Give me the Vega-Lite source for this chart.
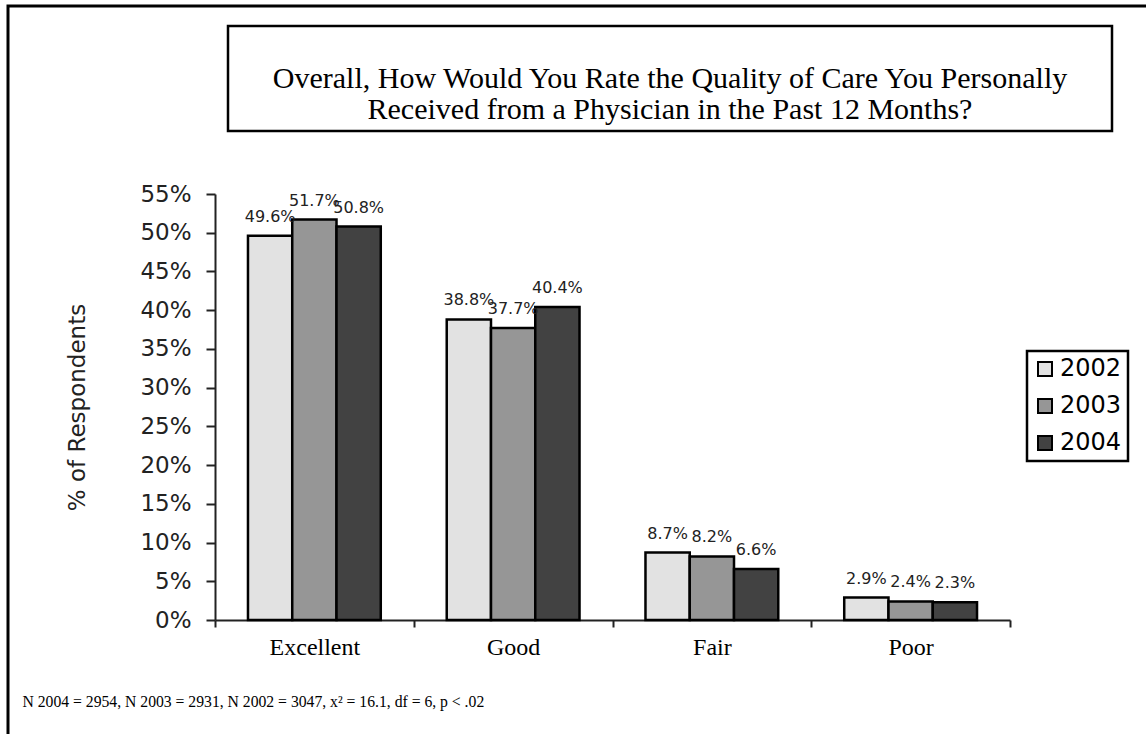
{
  "$schema": "https://vega.github.io/schema/vega-lite/v6.json",
  "width": 1170,
  "height": 760,
  "autosize": {"type": "none"},
  "padding": {"left": 8, "top": 6, "right": -32, "bottom": -32},
  "background": "white",
  "config": {"view": {"stroke": "black", "strokeWidth": 3, "fill": "white"}},
  "layer": [
    {
      "data": {"values": [
        {"rating": "Excellent", "year": "2002", "pct": 0.496},
        {"rating": "Excellent", "year": "2003", "pct": 0.517},
        {"rating": "Excellent", "year": "2004", "pct": 0.508},
        {"rating": "Good", "year": "2002", "pct": 0.388},
        {"rating": "Good", "year": "2003", "pct": 0.377},
        {"rating": "Good", "year": "2004", "pct": 0.404},
        {"rating": "Fair", "year": "2002", "pct": 0.087},
        {"rating": "Fair", "year": "2003", "pct": 0.082},
        {"rating": "Fair", "year": "2004", "pct": 0.066},
        {"rating": "Poor", "year": "2002", "pct": 0.029},
        {"rating": "Poor", "year": "2003", "pct": 0.024},
        {"rating": "Poor", "year": "2004", "pct": 0.023}
      ]},
      "encoding": {
        "x": {
          "field": "rating", "type": "nominal",
          "sort": ["Excellent", "Good", "Fair", "Poor"],
          "scale": {"range": [207, 1002], "paddingInner": 0, "paddingOuter": 0},
          "axis": {
            "orient": "bottom", "offset": -146,
            "title": "N 2004 = 2954, N 2003 = 2931, N 2002 = 3047, x² = 16.1, df = 6, p < .02",
            "titleX": 14, "titleY": 86, "titleAlign": "left", "titleBaseline": "alphabetic",
            "titleFont": "Liberation Serif", "titleFontSize": 15.7, "titleFontWeight": "normal", "titleColor": "black",
            "labelFont": "Liberation Serif", "labelFontSize": 24, "labelColor": "black", "labelAngle": 0, "labelPadding": 8,
            "tickBand": "extent", "tickSize": 7, "tickWidth": 2, "tickColor": "#222",
            "domainColor": "#222", "domainWidth": 2
          }
        },
        "xOffset": {"field": "year", "type": "nominal", "scale": {"paddingInner": 0, "paddingOuter": 0.745}},
        "y": {
          "field": "pct", "type": "quantitative",
          "scale": {"domain": [0, 0.55], "range": [614, 188], "nice": false, "zero": true},
          "axis": {
            "orient": "left", "offset": -207, "grid": false,
            "values": [0, 0.05, 0.1, 0.15, 0.2, 0.25, 0.3, 0.35, 0.4, 0.45, 0.5, 0.55],
            "format": ".0%",
            "title": "% of Respondents",
            "titleFont": "DejaVu Sans", "titleFontSize": 23, "titleFontWeight": "normal", "titleColor": "#222", "titlePadding": 50,
            "labelFont": "DejaVu Sans", "labelFontSize": 23, "labelColor": "#222", "labelPadding": 15,
            "tickSize": 9, "tickWidth": 2, "tickColor": "#222",
            "domainColor": "#222", "domainWidth": 2
          }
        }
      },
      "layer": [
        {
          "mark": {"type": "bar", "stroke": "black", "strokeWidth": 2.5, "opacity": 1},
          "encoding": {
            "color": {
              "field": "year", "type": "nominal",
              "scale": {"domain": ["2002", "2003", "2004"], "range": ["#e2e2e2", "#969696", "#424242"]},
              "legend": {
                "title": null, "orient": "none", "legendX": 1019, "legendY": 345,
                "strokeColor": "black", "padding": 6,
                "symbolType": "square", "symbolSize": 196, "symbolStrokeColor": "black", "symbolStrokeWidth": 2, "symbolOpacity": 1,
                "labelFont": "DejaVu Sans", "labelFontSize": 24, "labelColor": "black", "labelOffset": 3,
                "rowPadding": 13,
                "encode": {"legend": {"update": {"strokeWidth": {"value": 2.5}}}}
              }
            }
          }
        },
        {
          "mark": {"type": "text", "baseline": "bottom", "dy": -11, "font": "DejaVu Sans", "fontSize": 16, "color": "#222"},
          "encoding": {"text": {"field": "pct", "type": "quantitative", "format": ".1%"}}
        }
      ]
    },
    {
      "data": {"values": [{}]},
      "encoding": {
        "x": {"datum": "t", "type": "nominal", "scale": {"range": [220, 1104], "paddingInner": 0, "paddingOuter": 0}, "axis": null},
        "y": {"datum": "t", "type": "nominal", "scale": {"range": [20, 125], "paddingInner": 0, "paddingOuter": 0}, "axis": null}
      },
      "layer": [
        {"mark": {"type": "rect", "fill": "white", "stroke": "black", "strokeWidth": 2.5}},
        {"mark": {"type": "text", "text": ["Overall, How Would You Rate the Quality of Care You Personally", "Received from a Physician in the Past 12 Months?"], "font": "Liberation Serif", "fontSize": 30, "lineHeight": 31, "align": "center", "baseline": "middle", "color": "black"}}
      ]
    }
  ],
  "resolve": {"scale": {"x": "independent", "y": "independent", "color": "independent"}}
}
